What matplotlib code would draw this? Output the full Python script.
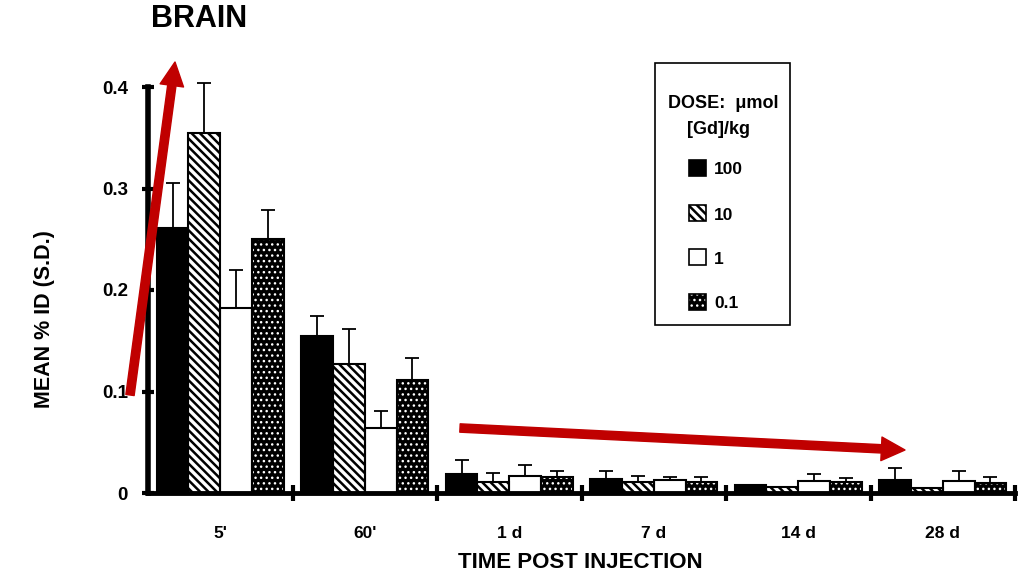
import matplotlib
matplotlib.use("Agg")
import matplotlib.pyplot as plt
from matplotlib.patches import Rectangle
import numpy as np

plt.rcParams['font.family'] = ['Liberation Sans', 'DejaVu Sans']
plt.rcParams['font.weight'] = 'bold'
plt.rcParams['hatch.linewidth'] = 1.8

# ---- data ----
times = ["5'", "60'", "1 d", "7 d", "14 d", "28 d"]
doses = ["100", "10", "1", "0.1"]
mean_100 = [0.261, 0.155, 0.019, 0.014, 0.008, 0.013]
mean_10 = [0.355, 0.127, 0.011, 0.011, 0.006, 0.005]
mean_1 = [0.182, 0.064, 0.017, 0.013, 0.012, 0.012]
mean_01 = [0.250, 0.111, 0.016, 0.011, 0.011, 0.010]
sd_100 = [0.044, 0.019, 0.014, 0.008, 0.0, 0.012]
sd_10 = [0.049, 0.035, 0.009, 0.006, 0.0, 0.0]
sd_1 = [0.038, 0.017, 0.011, 0.003, 0.007, 0.010]
sd_01 = [0.029, 0.022, 0.006, 0.005, 0.004, 0.006]

means = [mean_100, mean_10, mean_1, mean_01]
sds = [sd_100, sd_10, sd_1, sd_01]

W, H = 1025, 577
fig = plt.figure(figsize=(W / 100, H / 100), dpi=100)

def fx(p):
    return p / W

def fy(p):
    return 1 - p / H

ax = fig.add_axes([fx(148), fy(493), fx(1015) - fx(148), fy(87) - fy(493)])

x = np.arange(len(times))
bw = 0.22
offsets = (np.arange(4) - 1.5) * bw

styles = [
    dict(facecolor='black', edgecolor='black', hatch=None, hlw=1.8),
    dict(facecolor='white', edgecolor='black', hatch='\\\\\\\\', hlw=1.8),
    dict(facecolor='white', edgecolor='black', hatch=None, hlw=1.8),
    dict(facecolor='black', edgecolor='white', hatch='...', hlw=1.0),
]

for i in range(4):
    st = styles[i]
    with plt.rc_context({'hatch.linewidth': st['hlw']}):
        ax.bar(x + offsets[i], means[i], width=bw, facecolor=st['facecolor'],
               edgecolor=st['edgecolor'], hatch=st['hatch'], linewidth=0, zorder=2)
    ax.bar(x + offsets[i], means[i], width=bw, facecolor='none',
           edgecolor='black', linewidth=1.5, zorder=3)
    ax.errorbar(x + offsets[i], means[i], yerr=[np.zeros(len(times)), sds[i]],
                fmt='none', ecolor='black', elinewidth=1.3, capsize=5,
                capthick=1.3, zorder=4, clip_on=False)

ax.set_xlim(-0.5, 5.5)
ax.set_ylim(0, 0.4)
for s in ['top', 'right']:
    ax.spines[s].set_visible(False)
ax.spines['left'].set_linewidth(4)
ax.spines['bottom'].set_linewidth(3.5)
ax.spines['left'].set_zorder(5)
ax.spines['bottom'].set_zorder(5)

ax.set_yticks([0, 0.1, 0.2, 0.3, 0.4])
ax.set_yticklabels(['0', '0.1', '0.2', '0.3', '0.4'])
ax.tick_params(axis='y', direction='inout', length=9, width=3, labelsize=13.5, pad=10)
ax.set_xticks(x)
ax.set_xticklabels(times)
ax.tick_params(axis='x', which='major', length=0, labelsize=12.5, pad=24)
ax.set_xticks(np.arange(0.5, 5.6, 1.0), minor=True)
ax.tick_params(axis='x', which='minor', direction='inout', length=12, width=3)

fig.text(fx(580), fy(563), 'TIME POST INJECTION', ha='center', va='center',
         fontsize=16, fontweight='bold')
fig.text(fx(45), fy(319), 'MEAN % ID (S.D.)', ha='center', va='center',
         rotation=90, fontsize=15.5, fontweight='bold')
fig.text(fx(151), fy(19), 'BRAIN', ha='left', va='center',
         fontsize=22, fontweight='bold')

# ---- legend (manual) ----
fig.add_artist(Rectangle((fx(655), fy(325)), fx(790) - fx(655), fy(63) - fy(325),
                         transform=fig.transFigure, facecolor='white',
                         edgecolor='black', linewidth=1.2, zorder=10))
fig.text(fx(723), fy(103), 'DOSE:  \u03bcmol', ha='center', va='center',
         fontsize=13, fontweight='bold', zorder=11)
fig.text(fx(718), fy(130), '[Gd]/kg', ha='center', va='center',
         fontsize=13, fontweight='bold', zorder=11)
ys = [168, 213, 257, 302]
for i in range(4):
    st = styles[i]
    rx, ry, rw, rh = fx(689), fy(ys[i] + 8), fx(706) - fx(689), fy(ys[i] - 8) - fy(ys[i] + 8)
    with plt.rc_context({'hatch.linewidth': st['hlw']}):
        fig.add_artist(Rectangle((rx, ry), rw, rh, transform=fig.transFigure,
                                 facecolor=st['facecolor'], edgecolor=st['edgecolor'],
                                 hatch=st['hatch'], linewidth=0, zorder=11))
    fig.add_artist(Rectangle((rx, ry), rw, rh, transform=fig.transFigure,
                             facecolor='none', edgecolor='black', linewidth=1.2, zorder=12))
    fig.text(fx(714), fy(ys[i] + 2), doses[i], ha='left', va='center',
             fontsize=12.5, fontweight='bold', zorder=12)

# ---- red annotation arrows ----
red = '#C00000'
arrow_kw = dict(arrowstyle='simple,head_length=0.85,head_width=0.85,tail_width=0.3',
                color=red, shrinkA=0, shrinkB=0, mutation_scale=20)
ax.annotate('', xy=(175, H - 62), xytext=(130, H - 395), xycoords='figure pixels',
            textcoords='figure pixels', arrowprops=arrow_kw, zorder=20,
            annotation_clip=False)
ax.annotate('', xy=(905, H - 450), xytext=(460, H - 428), xycoords='figure pixels',
            textcoords='figure pixels', arrowprops=arrow_kw, zorder=20,
            annotation_clip=False)

fig.savefig('out.png', dpi=100)
